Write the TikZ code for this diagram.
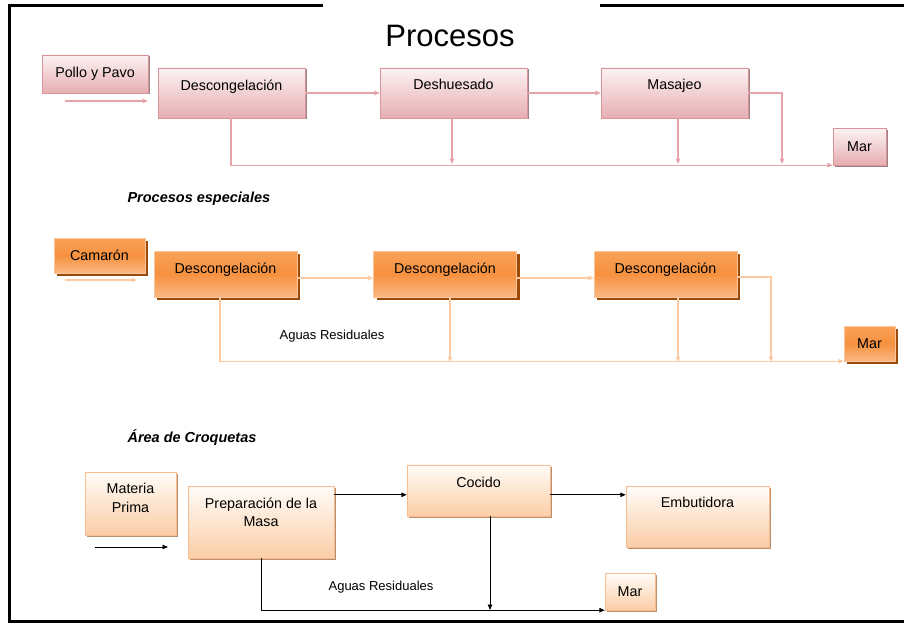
\documentclass[tikz,border=0pt]{standalone}
\usepackage{fontspec}
\setmainfont{Liberation Sans}
\usetikzlibrary{arrows.meta, shadows}

\definecolor{rosaline}{HTML}{D9959A}
\definecolor{rosatop}{HTML}{FCF2F3}
\definecolor{rosabot}{HTML}{E6AEB2}
\definecolor{rosasombra}{HTML}{9A8284}
\definecolor{rosaflujo}{HTML}{E5A4A8}
\definecolor{naranjaline}{HTML}{FBC59C}
\definecolor{naranjatop}{HTML}{F9A258}
\definecolor{naranjamid}{HTML}{F6913F}
\definecolor{naranjabot}{HTML}{FAB883}
\definecolor{naranjasombra}{HTML}{9C4A08}
\definecolor{naranjaflujo}{HTML}{FCCBA4}
\definecolor{crematop}{HTML}{FFFCF8}
\definecolor{cremabot}{HTML}{FBCDA6}
\definecolor{cremaline}{HTML}{F8BC90}
\definecolor{cremasombra}{HTML}{B8906E}

\tikzset{
>={Triangle[length=5.5pt,width=4.5pt]}, % small filled arrow heads
rosabox/.style={draw=rosaline, top color=rosatop, bottom color=rosabot,
  drop shadow={shadow xshift=1.5pt, shadow yshift=-1.5pt, fill=rosasombra, opacity=1}}, % first block
naranjabox/.style={draw=naranjaline, top color=naranjatop, bottom color=naranjabot, middle color=naranjamid,
  drop shadow={shadow xshift=3pt, shadow yshift=-3pt, fill=naranjasombra, opacity=1}}, % shrimp block
cremabox/.style={draw=cremaline, top color=crematop, bottom color=cremabot,
  drop shadow={shadow xshift=2pt, shadow yshift=-2pt, fill=cremasombra, opacity=1}}, % croquetas block
boxtext/.style={anchor=north, inner sep=0pt, yshift=-#1, align=center}, % text near the top of a box
rosaflujo/.style={draw=rosaflujo, line width=1.3pt, ->},
naranjaflujo/.style={draw=naranjaflujo, line width=1.3pt, ->},
negroflujo/.style={draw=black, line width=0.9pt, ->},
titulo/.style={font=\bfseries\itshape\fontsize{14.5}{17}\selectfont, anchor=west},
nota/.style={font=\fontsize{13}{15}\selectfont},
}

\begin{document}
\begin{tikzpicture}[x=1pt, y=-1pt, font=\fontsize{14.3}{18.5}\selectfont]
  \useasboundingbox (0,0) rectangle (904,623);
  % frame
  \draw[line width=3pt] (323,6) -| (9,621) -- (904,621);
  \draw[line width=3pt] (600,6) -- (904,6);
  \node[font=\fontsize{31}{36}\selectfont] (procesos) at (450,36) {Procesos};

  % Pollo y Pavo
  \node[rosabox, minimum width=106pt, minimum height=38pt] (pollo) at (95,74) {Pollo y Pavo};
  \node[rosabox, minimum width=147pt, minimum height=50pt, label={[boxtext=11.5pt]north:Descongelación}] (desc) at (231.5,93) {};
  \node[rosabox, minimum width=147pt, minimum height=50pt, label={[boxtext=11.5pt]north:Deshuesado}] (desh) at (453.5,93) {};
  \node[rosabox, minimum width=147pt, minimum height=50pt, label={[boxtext=11.5pt]north:Masajeo}] (masajeo) at (674.5,93) {};
  \node[rosabox, minimum width=53pt, minimum height=37pt] (mar1) at (859.5,146.5) {Mar};
  \coordinate (ent1) at (65,101);
  \coordinate (ent1b) at (148,101);
  \coordinate (g1o) at (231,164);
  \coordinate (g1a) at (452,164);
  \coordinate (g1b) at (678,164);
  \coordinate (g1c) at (782,164);
  \draw[rosaflujo] (ent1) -- (ent1b);
  \draw[rosaflujo] (desc) -- (desh);
  \draw[rosaflujo] (desh) -- (masajeo);
  \draw[rosaflujo] (masajeo.east) -| (g1c);
  \draw[rosaflujo] (desc.south -| g1o) |- (mar1.south west);
  \draw[rosaflujo] (desh.south -| g1a) -- (g1a);
  \draw[rosaflujo] (masajeo.south -| g1b) -- (g1b);

  % Procesos especiales
  \node[titulo] (especiales) at (124,199) {Procesos especiales};
  \node[naranjabox, minimum width=91pt, minimum height=35pt] (camaron) at (99.5,255.5) {Camarón};
  \node[naranjabox, minimum width=143pt, minimum height=46pt, label={[boxtext=11.5pt]north:Descongelación}] (desca) at (225.5,274) {};
  \node[naranjabox, minimum width=143pt, minimum height=46pt, label={[boxtext=11.5pt]north:Descongelación}] (descb) at (445,274) {};
  \node[naranjabox, minimum width=143pt, minimum height=46pt, label={[boxtext=11.5pt]north:Descongelación}] (descc) at (665.5,274) {};
  \node[naranjabox, minimum width=51pt, minimum height=35pt] (mar2) at (869.5,343.5) {Mar};
  \node[nota] (aguas1) at (332,336) {Aguas Residuales};
  \coordinate (ent2) at (65,280);
  \coordinate (ent2b) at (137,280);
  \coordinate (g2o) at (220,362);
  \coordinate (g2a) at (450,362);
  \coordinate (g2b) at (678,362);
  \coordinate (g2c) at (771,362);
  \draw[naranjaflujo] (ent2) -- (ent2b);
  \draw[naranjaflujo] ([yshift=-4pt]desca.east) -- ([yshift=-4pt]descb.west);
  \draw[naranjaflujo] ([yshift=-4pt]descb.east) -- ([yshift=-4pt]descc.west);
  \draw[naranjaflujo] ([yshift=-3pt]descc.east) -| (g2c);
  \draw[naranjaflujo] (desca.south -| g2o) |- (mar2.south west);
  \draw[naranjaflujo] (descb.south -| g2a) -- (g2a);
  \draw[naranjaflujo] (descc.south -| g2b) -- (g2b);

  % Area de Croquetas
  \node[titulo] (croquetas) at (124,438) {Área de Croquetas};
  \node[cremabox, minimum width=91pt, minimum height=63pt, label={[boxtext=11.5pt]north:Materia\\Prima}] (materia) at (130.5,503.5) {};
  \node[cremabox, minimum width=146pt, minimum height=72pt, label={[boxtext=11.5pt]north:Preparación de la\\Masa}] (prep) at (261,522) {};
  \node[cremabox, minimum width=143pt, minimum height=51pt, label={[boxtext=12.5pt]north:Cocido}] (cocido) at (478.5,490.5) {};
  \node[cremabox, minimum width=143pt, minimum height=61pt, label={[boxtext=11.5pt]north:Embutidora}] (embutidora) at (697.5,516.5) {};
  \node[cremabox, minimum width=50pt, minimum height=37pt] (mar3) at (630,591.5) {Mar};
  \node[nota] (aguas2) at (381,587) {Aguas Residuales};
  \coordinate (ent3) at (95,547);
  \coordinate (ent3b) at (168,547);
  \coordinate (g3) at (490,610);
  \draw[negroflujo] (ent3) -- (ent3b);
  \draw[negroflujo] ([yshift=-9pt]prep.north east) -- ([yshift=-30pt]cocido.north west);
  \draw[negroflujo] ([yshift=-30pt]cocido.north east) -- ([yshift=-9pt]embutidora.north west);
  \draw[negroflujo] (prep.south) |- (mar3.south west);
  \draw[negroflujo] (cocido.south -| g3) -- (g3);
\end{tikzpicture}
\end{document}
